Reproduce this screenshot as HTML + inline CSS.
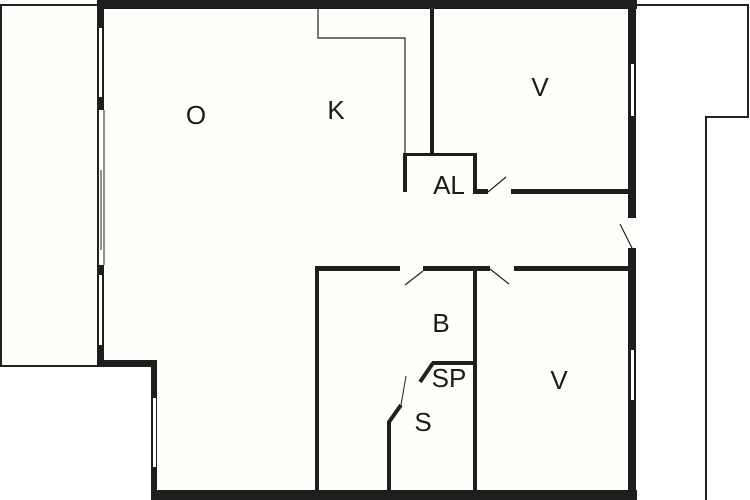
<!DOCTYPE html>
<html><head><style>body{margin:0;background:#fff}svg{display:block}text{font-family:"Liberation Sans",sans-serif;font-size:26px;fill:#1a1a1a;text-anchor:middle}</style></head>
<body><svg width="750" height="500" viewBox="0 0 750 500" xmlns="http://www.w3.org/2000/svg">
<rect width="750" height="500" fill="#fff"/>
<rect x="99" y="5" width="535" height="490" fill="#fefefb"/>
<polygon points="99,365 155,365 155,495 99,495" fill="#fff"/>
<g fill="#fefefb" stroke="#222" stroke-width="2">
<rect x="1" y="5" width="97" height="361"/>
<polyline points="636,5 748,5 748,117 706,117 706,500" fill="none"/>
</g>
<g fill="#1e1e1e">
<rect x="97" y="0" width="540" height="9"/>
<rect x="97" y="0" width="7" height="110"/>
<rect x="97" y="265" width="7" height="101"/>
<rect x="97" y="360" width="60" height="7"/>
<rect x="151" y="360" width="6" height="140"/>
<rect x="151" y="490" width="486" height="10"/>
<rect x="628" y="0" width="8" height="218"/>
<rect x="628" y="248" width="8" height="252"/>
<rect x="430" y="5" width="4" height="150"/>
<rect x="403" y="153" width="74" height="3"/>
<rect x="403" y="153" width="4" height="39"/>
<rect x="473" y="153" width="4" height="41"/>
<rect x="473" y="189" width="15" height="5"/>
<rect x="511" y="189" width="121" height="5"/>
<rect x="315" y="266" width="85" height="5"/>
<rect x="423" y="266" width="67" height="5"/>
<rect x="514" y="266" width="118" height="5"/>
<rect x="315" y="266" width="4" height="226"/>
<rect x="473" y="266" width="4" height="226"/>
<rect x="432" y="361" width="43" height="4"/>
<rect x="387" y="421" width="4" height="71"/>
</g>
<g fill="#fff">
<rect x="99" y="28" width="3" height="69"/>
<rect x="99" y="275" width="3" height="70"/>
<rect x="153" y="398" width="3" height="69"/>
<rect x="631" y="64" width="3" height="52"/>
<rect x="631" y="350" width="3" height="50"/>
</g>
<g stroke="#222" fill="none">
<line x1="101" y1="170" x2="101" y2="250" stroke-width="1"/>
<line x1="104" y1="110" x2="104" y2="265" stroke-width="1"/>
<polyline points="318,9 318,38 405,38 405,153" stroke-width="1.2"/>
<line x1="488" y1="192" x2="506" y2="177" stroke-width="1.2"/>
<line x1="620" y1="224" x2="632" y2="248" stroke-width="1.2"/>
<line x1="405" y1="285" x2="423" y2="271" stroke-width="1.2"/>
<line x1="490" y1="269" x2="509" y2="284" stroke-width="1.2"/>
<line x1="433" y1="363" x2="420" y2="382" stroke-width="4"/>
<line x1="389" y1="422" x2="401" y2="405" stroke-width="4"/>
<line x1="401" y1="405" x2="406" y2="376" stroke-width="1"/>
</g>
<text x="196" y="124">O</text>
<text x="336" y="119">K</text>
<text x="540" y="96">V</text>
<text x="449" y="194">AL</text>
<text x="441" y="332">B</text>
<text x="449" y="387">SP</text>
<text x="559" y="389">V</text>
<text x="423" y="431">S</text>
</svg></body></html>
